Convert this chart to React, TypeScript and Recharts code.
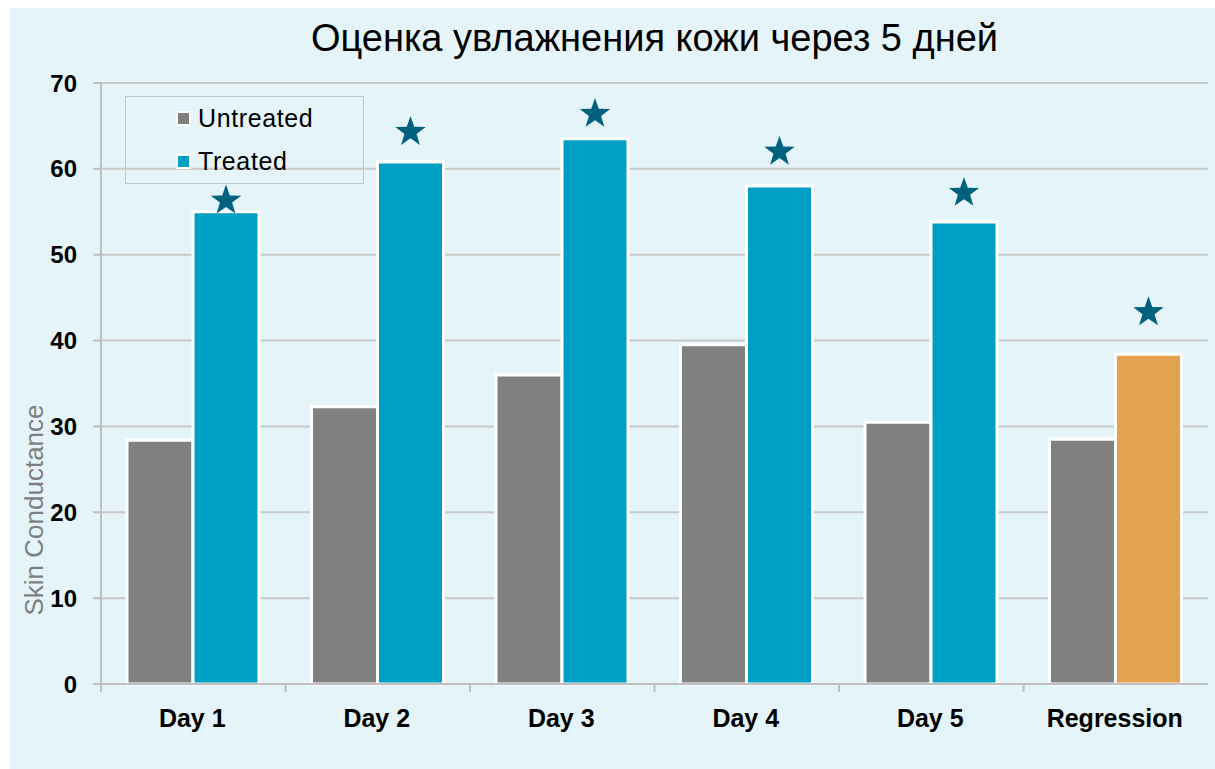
import { BarChart, Bar, XAxis, YAxis, CartesianGrid, Legend, Cell } from "recharts";

const categories = ["Day 1", "Day 2", "Day 3", "Day 4", "Day 5", "Regression"];
const untreated = [28.4, 32.3, 36.0, 39.5, 30.5, 28.5];
const treated = [55.0, 60.8, 63.5, 58.0, 53.8, 38.4];
const starLevels = [56.3, 64.3, 66.4, 62.0, 57.2, 43.3];
const yTicks = [0, 10, 20, 30, 40, 50, 60, 70];

const data = categories.map((name, i) => ({
  name,
  Untreated: untreated[i],
  Treated: treated[i],
}));

const W = 1215;
const H = 769;
const Y_AXIS_W = 101;
const RIGHT = 7;
const BAND = (W - Y_AXIS_W - RIGHT) / categories.length;
const FONT = '"Liberation Sans", Arial, sans-serif';

const GRAY = "#808080";
const TEAL = "#00A0C4";
const ORANGE = "#E4A14E";
const STAR = "#00617F";

function starPath(cx: number, cy: number, r: number) {
  const inner = r * 0.4;
  let d = "";
  for (let k = 0; k < 10; k++) {
    const rad = k % 2 === 0 ? r : inner;
    const a = -Math.PI / 2 + (k * Math.PI) / 5;
    d += (k === 0 ? "M" : "L") + (cx + rad * Math.cos(a)) + "," + (cy + rad * Math.sin(a));
  }
  return d + "Z";
}

function StarLabel(props: any) {
  const { x, y, width, height, value, index } = props;
  if (!value) return null;
  const perUnit = height / value;
  const cy = y + height - starLevels[index] * perUnit;
  return <path d={starPath(x + width / 2, cy, 16)} fill={STAR} />;
}

function XTick(props: any) {
  const { x, y, payload } = props;
  const bx = x - BAND / 2;
  return (
    <g>
      <line x1={bx} y1={y} x2={bx} y2={y + 8} stroke="#BFBFBF" strokeWidth={2} />
      <text
        x={x - 1}
        y={y + 43}
        textAnchor="middle"
        fontFamily={FONT}
        fontWeight="bold"
        fontSize={25}
        fill="#000"
      >
        {payload.value}
      </text>
    </g>
  );
}

function LegendBox() {
  const items = [
    { label: "Untreated", color: GRAY },
    { label: "Treated", color: TEAL },
  ];
  return (
    <div
      style={{
        width: 237,
        height: 86,
        border: "1px solid #C8C8C8",
        fontFamily: FONT,
        fontSize: 25,
        color: "#000",
        boxSizing: "content-box",
      }}
    >
      {items.map((it, i) => (
        <div
          key={it.label}
          style={{
            position: "absolute",
            left: 51,
            top: 22 + i * 43 - 15,
            height: 30,
            display: "flex",
            alignItems: "center",
          }}
        >
          <span
            style={{
              display: "inline-block",
              width: 11,
              height: 11,
              background: it.color,
              border: "2px solid #fff",
              marginRight: 7,
            }}
          />
          <span style={{ letterSpacing: 0.6 }}>{it.label}</span>
        </div>
      ))}
    </div>
  );
}

export default function App() {
  return (
    <div style={{ position: "relative", width: W, height: H, background: "#fff", overflow: "hidden" }}>
      <style>{`body{margin:0}`}</style>
      <div style={{ position: "absolute", left: 10, top: 8, right: 0, bottom: 0, background: "#E5F4F8" }} />
      <div
        style={{
          position: "absolute",
          left: Y_AXIS_W,
          width: W - Y_AXIS_W - RIGHT,
          top: 19,
          fontFamily: FONT,
          fontSize: 38,
          lineHeight: "38px",
          textAlign: "center",
          color: "#000",
        }}
      >
        Оценка увлажнения кожи через 5 дней
      </div>
      <div style={{ position: "absolute", left: 0, top: 0 }}>
        <BarChart
          width={W}
          height={H}
          data={data}
          margin={{ top: 83, right: RIGHT, left: 0, bottom: 25 }}
          barGap={0}
        >
          <CartesianGrid horizontal vertical={false} stroke="#C8C8C8" strokeWidth={2} />
          <XAxis
            dataKey="name"
            height={60}
            axisLine={{ stroke: "#BFBFBF", strokeWidth: 2 }}
            tickLine={false}
            tickSize={0}
            tickMargin={0}
            interval={0}
            tick={<XTick />}
          />
          <YAxis
            width={Y_AXIS_W}
            domain={[0, 70]}
            ticks={yTicks}
            interval={0}
            axisLine={{ stroke: "#BFBFBF", strokeWidth: 2 }}
            tickLine={{ stroke: "#BFBFBF", strokeWidth: 2 }}
            tickSize={8}
            tickMargin={16}
            tick={{ fontFamily: FONT, fontWeight: "bold", fontSize: 24, fill: "#000" }}
            label={() => (
              <text
                transform="translate(43,510) rotate(-90)"
                textAnchor="middle"
                fontFamily={FONT}
                fontSize={26}
                fill="#7F7F7F"
              >
                Skin Conductance
              </text>
            )}
          />
          <Legend
            layout="vertical"
            align="center"
            verticalAlign="middle"
            wrapperStyle={{ left: 125, top: 96, width: 239, height: 88 }}
            content={() => <LegendBox />}
          />
          <Bar dataKey="Untreated" fill={GRAY} stroke="#fff" strokeWidth={3} barSize={66} isAnimationActive={false} />
          <Bar
            dataKey="Treated"
            fill={TEAL}
            stroke="#fff"
            strokeWidth={3}
            barSize={66}
            isAnimationActive={false}
            label={(p: any) => <StarLabel {...p} />}
          >
            {data.map((d) => (
              <Cell key={d.name} fill={d.name === "Regression" ? ORANGE : TEAL} />
            ))}
          </Bar>
        </BarChart>
      </div>
    </div>
  );
}
